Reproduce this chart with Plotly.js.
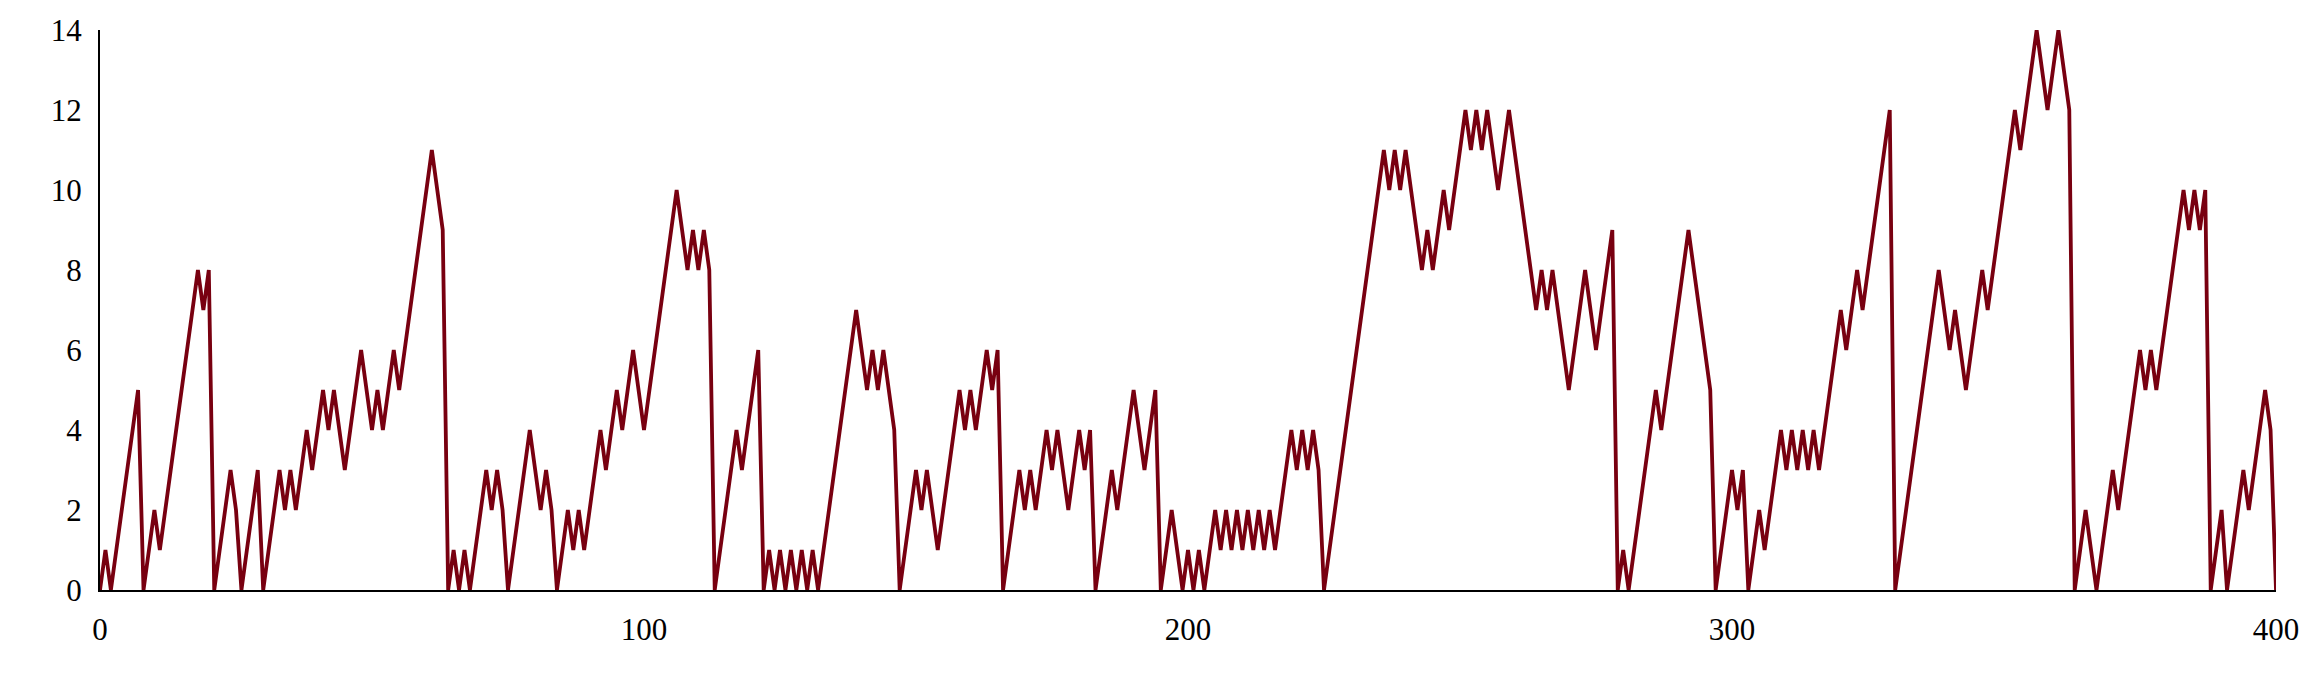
<!DOCTYPE html>
<html>
<head>
<meta charset="utf-8">
<script src="https://cdn.plot.ly/plotly-3.0.1.min.js"></script>
<style>
html,body{margin:0;padding:0;background:#fff;}
#chart{width:2313px;height:694px;}
</style>
</head>
<body>
<div id="chart"></div>
<script>
// x positions 0..400
var steps = [];
for (var i = 0; i <= 400; i++) steps.push(i);

// values, in blocks of 10 (x = 0..399) plus the last point
var values = [
  0,1,0,1,2,3,4,5,0,1,          // 0-9
  2,1,2,3,4,5,6,7,8,7,          // 10-19
  8,0,1,2,3,2,0,1,2,3,          // 20-29
  0,1,2,3,2,3,2,3,4,3,          // 30-39
  4,5,4,5,4,3,4,5,6,5,          // 40-49
  4,5,4,5,6,5,6,7,8,9,          // 50-59
  10,11,10,9,0,1,0,1,0,1,       // 60-69
  2,3,2,3,2,0,1,2,3,4,          // 70-79
  3,2,3,2,0,1,2,1,2,1,          // 80-89
  2,3,4,3,4,5,4,5,6,5,          // 90-99
  4,5,6,7,8,9,10,9,8,9,         // 100-109
  8,9,8,0,1,2,3,4,3,4,          // 110-119
  5,6,0,1,0,1,0,1,0,1,          // 120-129
  0,1,0,1,2,3,4,5,6,7,          // 130-139
  6,5,6,5,6,5,4,0,1,2,          // 140-149
  3,2,3,2,1,2,3,4,5,4,          // 150-159
  5,4,5,6,5,6,0,1,2,3,          // 160-169
  2,3,2,3,4,3,4,3,2,3,          // 170-179
  4,3,4,0,1,2,3,2,3,4,          // 180-189
  5,4,3,4,5,0,1,2,1,0,          // 190-199
  1,0,1,0,1,2,1,2,1,2,          // 200-209
  1,2,1,2,1,2,1,2,3,4,          // 210-219
  3,4,3,4,3,0,1,2,3,4,          // 220-229
  5,6,7,8,9,10,11,10,11,10,     // 230-239
  11,10,9,8,9,8,9,10,9,10,      // 240-249
  11,12,11,12,11,12,11,10,11,12,// 250-259
  11,10,9,8,7,8,7,8,7,6,        // 260-269
  5,6,7,8,7,6,7,8,9,0,          // 270-279
  1,0,1,2,3,4,5,4,5,6,          // 280-289
  7,8,9,8,7,6,5,0,1,2,          // 290-299
  3,2,3,0,1,2,1,2,3,4,          // 300-309
  3,4,3,4,3,4,3,4,5,6,          // 310-319
  7,6,7,8,7,8,9,10,11,12,       // 320-329
  0,1,2,3,4,5,6,7,8,7,          // 330-339
  6,7,6,5,6,7,8,7,8,9,          // 340-349
  10,11,12,11,12,13,14,13,12,13,// 350-359
  14,13,12,0,1,2,1,0,1,2,       // 360-369
  3,2,3,4,5,6,5,6,5,6,          // 370-379
  7,8,9,10,9,10,9,10,0,1,       // 380-389
  2,0,1,2,3,2,3,4,5,4,          // 390-399
  0                             // 400
];

var xTicks = [0, 100, 200, 300, 400];
var yTicks = [0, 2, 4, 6, 8, 10, 12, 14];

var trace = {
  x: steps,
  y: values,
  type: 'scatter',
  mode: 'lines',
  line: {color: '#780010', width: 3.8},
  hoverinfo: 'skip'
};

var fontFamily = '"Liberation Serif", "Times New Roman", serif';

var layout = {
  width: 2313,
  height: 694,
  margin: {l: 100, r: 37, t: 30, b: 104},
  paper_bgcolor: '#ffffff',
  plot_bgcolor: '#ffffff',
  showlegend: false,
  font: {family: fontFamily, size: 31, color: '#000000'},
  xaxis: {
    range: [0, 400],
    tickmode: 'array',
    tickvals: xTicks,
    ticktext: xTicks.map(String),
    showgrid: false,
    zeroline: false,
    showline: true,
    linecolor: '#000000',
    linewidth: 2,
    ticks: '',
    ticklabelstandoff: 11,
    tickfont: {family: fontFamily, size: 31, color: '#000000'}
  },
  yaxis: {
    range: [0, 14],
    tickmode: 'array',
    tickvals: yTicks,
    ticktext: yTicks.map(String),
    showgrid: false,
    zeroline: false,
    showline: true,
    linecolor: '#000000',
    linewidth: 2,
    ticks: '',
    ticklabelstandoff: 10,
    tickfont: {family: fontFamily, size: 31, color: '#000000'}
  }
};

Plotly.newPlot('chart', [trace], layout, {staticPlot: true, displayModeBar: false});
</script>
</body>
</html>
